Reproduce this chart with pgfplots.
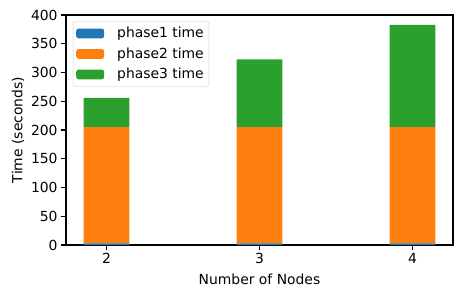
\documentclass[border=0pt]{standalone}
\usepackage{pgfplots}
\pgfplotsset{compat=1.18}
\usepackage{fontspec}
\setmainfont{DejaVu Sans}
\definecolor{c1}{HTML}{1F77B4}
\definecolor{c2}{HTML}{FF7F0E}
\definecolor{c3}{HTML}{2CA02C}
\begin{document}
\begin{tikzpicture}
\begin{axis}[
  name=ax,
  scale only axis, width=387pt, height=230pt,
  ybar stacked, bar width=0.3,
  xmin=1.735, xmax=4.265, ymin=0, ymax=400,
  xtick={2,3,4}, ytick={0,50,...,400},
  tick align=outside, tick pos=left, major tick length=4.9pt,
  tick style={black, line width=1.1pt},
  axis line style={line width=1.1pt},
  font=\fontsize{13.9}{16}\selectfont,
  /pgf/number format/assume math mode=true,
  xlabel={Number of Nodes}, ylabel={Time (seconds)},
  xlabel style={yshift=-3pt},
  legend cell align=left,
  legend style={at={(0,1)}, anchor=north west, xshift=7pt, yshift=-6pt,
    draw=black!20, rounded corners=2.5pt, fill=white,
    row sep=0pt, inner xsep=3pt, inner ysep=2pt},
  legend image code/.code={\path (0pt,-10.25pt) (39pt,10.25pt); \fill[#1] (0pt,-4.9pt) rectangle (28pt,4.9pt);},
]
\addplot[fill=c1, draw=none] coordinates {(2,3) (3,3) (4,3)};
\addplot[fill=c2, draw=none] coordinates {(2,202) (3,202) (4,202)};
\addplot[fill=c3, draw=none] coordinates {(2,51) (3,118) (4,178)};
\legend{phase1 time, phase2 time, phase3 time}
\end{axis}
\pgfresetboundingbox
\path[use as bounding box] ([shift={(-66pt,-53pt)}]ax.south west) rectangle ([shift={(10pt,15pt)}]ax.north east);
\end{tikzpicture}
\end{document}
